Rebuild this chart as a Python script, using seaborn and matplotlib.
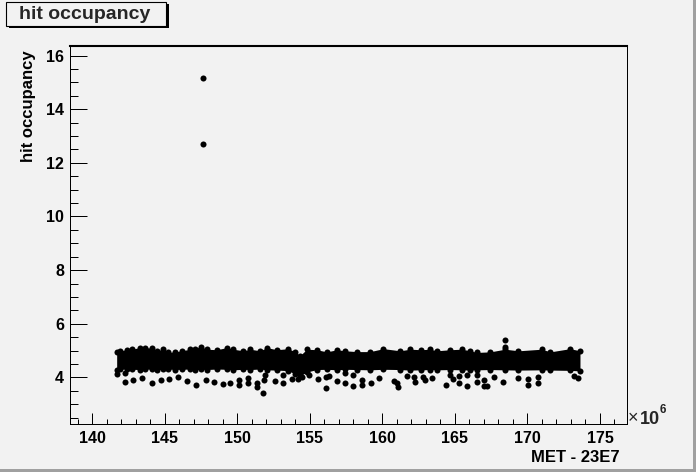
import matplotlib
matplotlib.use("Agg")
import matplotlib.pyplot as plt
from matplotlib.patches import Rectangle
from matplotlib.ticker import MultipleLocator
import seaborn as sns
import pandas as pd

# dense core of the band: upper and lower edge points
band_x = [141.68, 141.91, 142.37, 142.72, 143.29, 143.63, 144.10, 144.44, 144.90, 145.24,
          145.70, 146.17, 146.74, 147.08, 147.48, 147.89, 148.58, 149.27, 149.72, 150.41,
          150.88, 151.57, 152.03, 152.72, 153.52, 153.98, 154.32, 154.79, 155.48, 156.17,
          156.86, 157.43, 158.23, 159.15, 160.07, 161.22, 161.91, 162.67, 163.29, 163.75,
          164.67, 165.48, 166.05, 166.51, 167.43, 168.46, 169.38, 170.99, 171.57, 172.94,
          173.62]
band_high = [4.95, 4.99, 5.03, 5.05, 5.11, 5.11, 5.09, 4.99, 5.05, 4.93,
             4.95, 4.99, 5.05, 5.07, 5.15, 5.05, 5.03, 5.11, 5.05, 4.99,
             5.05, 4.99, 5.11, 5.03, 5.07, 4.95, 4.81, 5.05, 5.03, 4.95,
             5.03, 4.99, 4.96, 4.96, 5.07, 4.99, 5.05, 5.03, 5.05, 4.99,
             5.03, 5.05, 4.99, 4.93, 4.95, 5.05, 4.99, 5.05, 4.95, 5.07,
             4.99]
band_low = [4.28, 4.30, 4.31, 4.30, 4.29, 4.31, 4.30, 4.28, 4.30, 4.31,
            4.29, 4.30, 4.31, 4.28, 4.30, 4.29, 4.31, 4.30, 4.28, 4.30,
            4.29, 4.31, 4.28, 4.27, 4.25, 4.12, 4.05, 4.20, 4.29, 4.30,
            4.28, 4.30, 4.29, 4.28, 4.30, 4.29, 4.27, 4.28, 4.29, 4.28,
            4.29, 4.28, 4.27, 4.28, 4.29, 4.28, 4.27, 4.28, 4.27, 4.26,
            4.24]

# scattered points below the band
low_x = [141.68, 142.26, 142.26, 142.83, 143.45, 144.14, 144.72, 145.31, 145.93, 146.51,
         147.13, 147.84, 148.39, 148.99, 149.50, 150.14, 150.14, 150.76, 150.76, 151.34,
         151.34, 151.79, 151.91, 151.86, 152.60, 153.17, 153.17, 153.79, 154.21, 154.44,
         154.97, 155.59, 156.10, 156.10, 156.32, 156.86, 157.43, 157.43, 158.00, 158.00,
         158.62, 158.58, 159.20, 159.79, 160.83, 160.99, 161.06, 161.68, 162.21, 162.26,
         162.83, 162.94, 163.45, 164.37, 164.67, 164.90, 165.31, 165.31, 165.86, 165.86,
         166.51, 166.51, 167.01, 167.01, 167.24, 167.66, 168.34, 169.38, 170.07, 170.07,
         170.72, 170.72, 173.22, 173.45]
low_y = [4.11, 3.81, 4.15, 3.90, 3.96, 3.78, 3.90, 3.93, 4.02, 3.87,
         3.71, 3.90, 3.81, 3.74, 3.80, 3.90, 3.71, 3.96, 3.80, 3.78,
         3.65, 3.43, 4.09, 3.90, 3.87, 4.09, 3.80, 3.93, 3.93, 4.02,
         4.09, 3.93, 4.02, 3.59, 4.06, 3.87, 4.15, 3.80, 4.09, 3.68,
         3.90, 3.71, 3.78, 3.96, 3.87, 3.78, 3.63, 4.05, 4.02, 3.84,
         4.02, 3.90, 3.96, 3.71, 4.09, 3.93, 4.05, 3.80, 4.09, 3.68,
         4.09, 3.81, 3.90, 3.68, 3.68, 4.02, 3.81, 3.96, 3.93, 3.71,
         4.02, 3.80, 4.05, 3.96]

# points above the band
high_x = [147.66, 147.66, 168.46, 168.46]
high_y = [15.16, 12.69, 5.39, 5.14]

BG = "#f2f2f2"

sns.set_theme(style="ticks")
plt.rcParams["font.family"] = ["Liberation Sans", "DejaVu Sans"]
plt.rcParams["font.weight"] = "bold"

fig = plt.figure(figsize=(6.96, 4.72), dpi=100, facecolor=BG)
ax = fig.add_axes([0.0999, 0.1017, 0.8005, 0.7998])
ax.set_facecolor(BG)

ax.fill_between(band_x, band_low, band_high, color="black", lw=0)
pts = pd.DataFrame({"x": band_x + band_x + low_x + high_x,
                    "y": band_high + band_low + low_y + high_y})
sns.scatterplot(data=pts, x="x", y="y", color="black", s=19, linewidth=0, ax=ax)

ax.set_xlim(138.43, 176.84)
ax.set_ylim(2.26, 16.34)
ax.xaxis.set_major_locator(MultipleLocator(5))
ax.xaxis.set_minor_locator(MultipleLocator(1))
ax.yaxis.set_major_locator(MultipleLocator(2))
ax.yaxis.set_minor_locator(MultipleLocator(0.5))
ax.tick_params(axis="y", which="major", direction="in", length=12.2, width=0.72,
               labelsize=11.5, pad=4, color="black", labelcolor="black")
ax.tick_params(axis="y", which="minor", direction="in", length=5.8, width=0.72, color="black")
ax.tick_params(axis="x", which="major", direction="in", length=8, width=0.72,
               labelsize=11.5, pad=5, color="black", labelcolor="black")
ax.tick_params(axis="x", which="minor", direction="in", length=3.4, width=0.72, color="black")

for side in ["left", "bottom", "right"]:
    ax.spines[side].set_linewidth(0.72)
    ax.spines[side].set_color("black")
ax.spines["top"].set_linewidth(1.5)
ax.spines["top"].set_color("black")
ax.spines["top"].set_visible(True)
ax.spines["right"].set_visible(True)

ax.set_xlabel("MET - 23E7", fontsize=12, fontweight="bold", loc="right", color="black")
ax.xaxis.set_label_coords(0.988, -0.068)
ax.set_ylabel("hit occupancy", fontsize=12, fontweight="bold", loc="top", color="black")
ax.yaxis.set_label_coords(-0.06, 0.99)

# exponent of the x axis
fig.text(627.5 / 696, 1 - 423 / 472, "\u00d7", fontsize=13, fontweight="normal", va="baseline")
fig.text(639.5 / 696, 1 - 424 / 472, "10", fontsize=13, fontweight="bold", va="baseline")
fig.text(660 / 696, 1 - 413 / 472, "6", fontsize=8.5, fontweight="bold", va="baseline")

# title box with shadow
fig.patches.append(Rectangle((8.5 / 696, 1 - 28 / 472), 160 / 696, 24 / 472,
                             transform=fig.transFigure, facecolor="black", edgecolor="none"))
fig.patches.append(Rectangle((6 / 696, 1 - 25.5 / 472), 160 / 696, 23.5 / 472,
                             transform=fig.transFigure, facecolor=BG, edgecolor="black", lw=0.8))
fig.text(19 / 696, 1 - 14.5 / 472, "hit occupancy", fontsize=14, fontweight="bold", va="center")

# canvas border
fig.patches.append(Rectangle((693 / 696, 0), 3 / 696, 1, transform=fig.transFigure,
                             facecolor="#a0a0a0", edgecolor="none"))
fig.patches.append(Rectangle((0, 0), 1, 3 / 472, transform=fig.transFigure,
                             facecolor="#a0a0a0", edgecolor="none"))

fig.savefig("out.png", dpi=100, facecolor=BG)
